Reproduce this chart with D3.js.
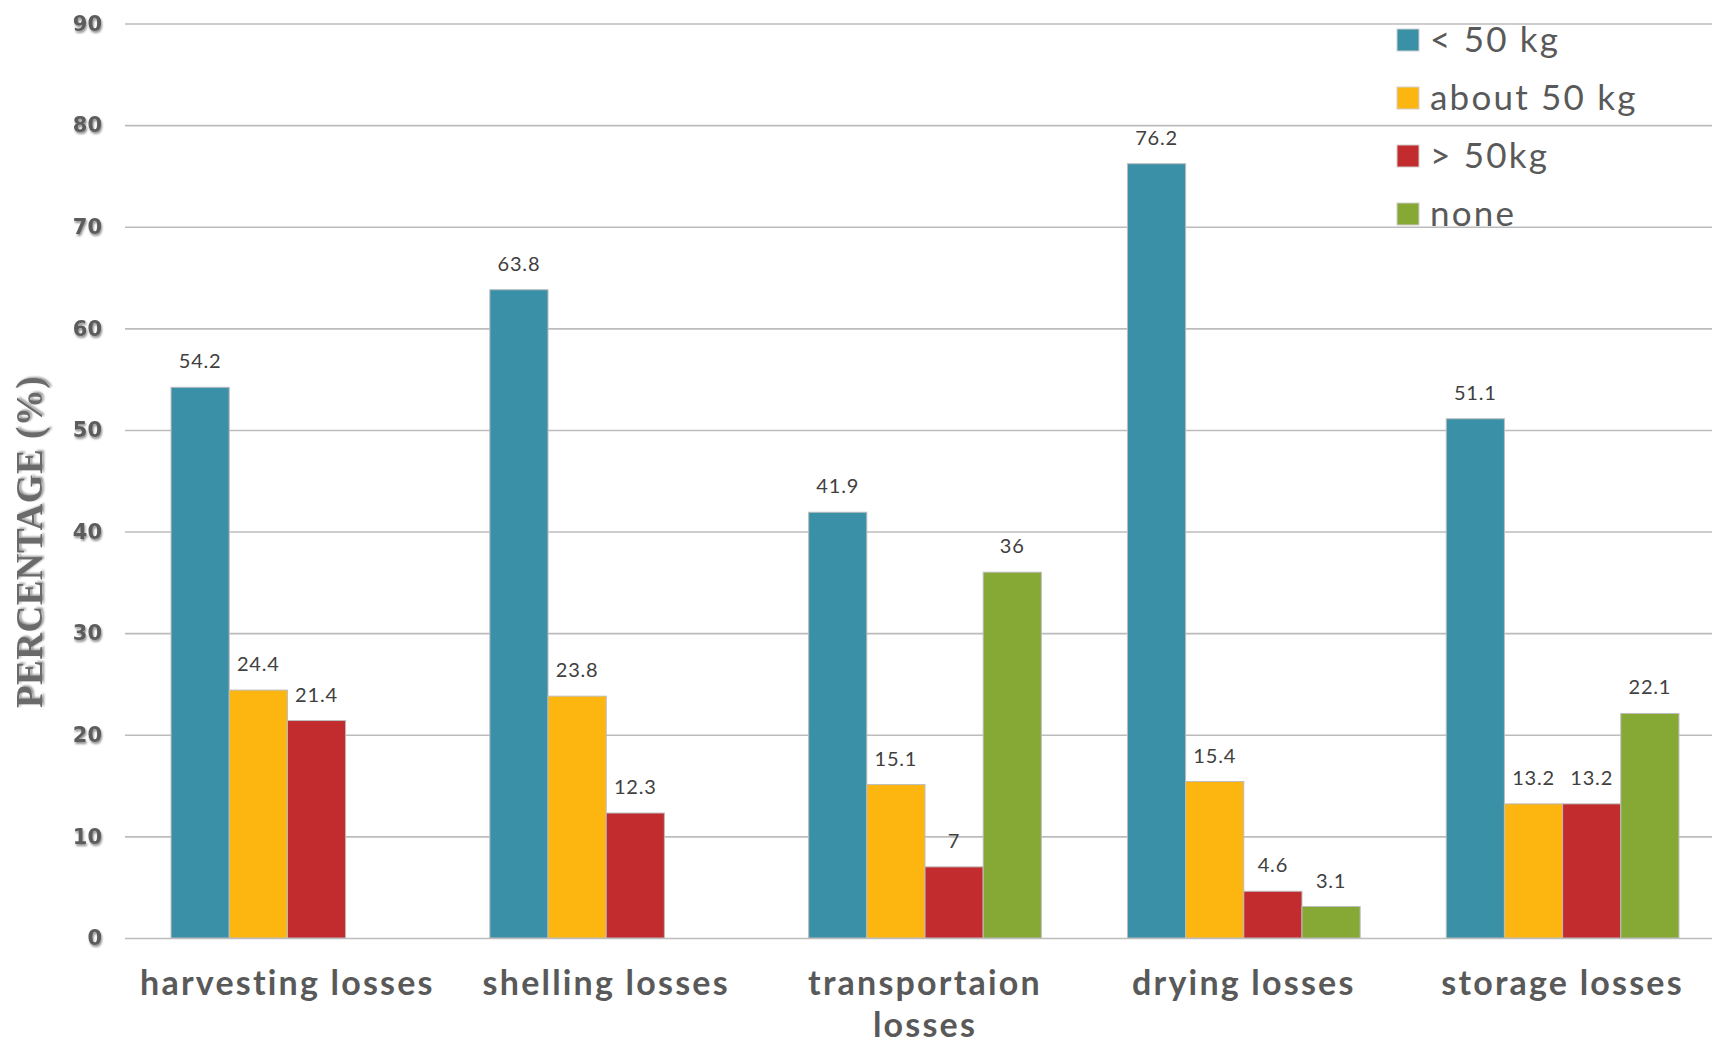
<!DOCTYPE html>
<html>
<head>
<meta charset="utf-8">
<script src="https://cdn.jsdelivr.net/npm/d3@7/dist/d3.min.js"></script>
<style>
  html, body { margin: 0; padding: 0; background: #fff; }
  svg { display: block; }
</style>
</head>
<body>
<svg id="chart" width="1712" height="1041"></svg>
<script>
// Post-harvest loss categories and the share of respondents per loss amount
const categories = ["harvesting losses", "shelling losses", "transportaion losses", "drying losses", "storage losses"];
const categoryLines = [["harvesting losses"], ["shelling losses"], ["transportaion", "losses"], ["drying losses"], ["storage losses"]];
const seriesNames = ["< 50 kg", "about 50 kg", "> 50kg", "none"];
const lessThan50 = [54.2, 63.8, 41.9, 76.2, 51.1];
const about50 = [24.4, 23.8, 15.1, 15.4, 13.2];
const moreThan50 = [21.4, 12.3, 7, 4.6, 13.2];
const noneLoss = [null, null, 36, 3.1, 22.1];
const yTicks = [0, 10, 20, 30, 40, 50, 60, 70, 80, 90];
const seriesColors = ["#3a90a7", "#fdb60f", "#c22c2f", "#86a935"];

const seriesValues = [lessThan50, about50, moreThan50, noneLoss];

const svg = d3.select("#chart");
const W = 1712, H = 1041;

const y = d3.scaleLinear().domain([0, 90]).range([938, 23.5]);
const x0 = d3.scaleBand().domain(categories).range([128, 1722]).paddingInner(0.27).paddingOuter(0.135);
const x1 = d3.scaleBand().domain(seriesNames).range([0, x0.bandwidth()]).padding(0);
const color = d3.scaleOrdinal().domain(seriesNames).range(seriesColors);

// Soft shadow used on the numeric axis labels
const defs = svg.append("defs");
const f = defs.append("filter").attr("id", "soft").attr("x", "-20%").attr("y", "-20%").attr("width", "150%").attr("height", "150%");
f.append("feGaussianBlur").attr("in", "SourceAlpha").attr("stdDeviation", 1.2).attr("result", "b");
f.append("feOffset").attr("in", "b").attr("dx", 1).attr("dy", 1.5).attr("result", "o");
f.append("feComponentTransfer").attr("in", "o").attr("result", "s")
  .append("feFuncA").attr("type", "linear").attr("slope", 0.45);
f.append("feGaussianBlur").attr("in", "SourceGraphic").attr("stdDeviation", 0.5).attr("result", "g");
const m = f.append("feMerge");
m.append("feMergeNode").attr("in", "s");
m.append("feMergeNode").attr("in", "g");

// Horizontal gridlines and y tick labels
const yAxis = d3.axisLeft(y).tickValues(yTicks).tickSize(-(W - 125)).tickPadding(23).tickFormat(d3.format("d"));
const gy = svg.append("g").attr("transform", "translate(125,0)").call(yAxis);
gy.select(".domain").remove();
gy.selectAll(".tick line").attr("stroke", "#bcbcbc").attr("stroke-width", 1.6);
gy.selectAll(".tick text")
  .attr("font-family", "'DejaVu Sans', Verdana, sans-serif")
  .attr("font-weight", "bold")
  .attr("font-size", 21)
  .attr("fill", "#5b5b5b")
  .attr("filter", "url(#soft)");

// Y axis title
svg.append("text")
  .attr("transform", "translate(42,542) rotate(-90)")
  .attr("text-anchor", "middle")
  .attr("font-family", "'Liberation Serif', 'Times New Roman', serif")
  .attr("font-weight", "bold")
  .attr("font-size", 37)
  .attr("letter-spacing", 0.5)
  .attr("fill", "#6a6a6a")
  .attr("filter", "url(#soft)")
  .text("PERCENTAGE (%)");

// Bars
const rows = categories.map((c, i) => ({
  category: c,
  values: seriesNames.map((s, j) => ({ series: s, value: seriesValues[j][i] }))
}));

const groups = svg.append("g").selectAll("g").data(rows).join("g")
  .attr("transform", d => `translate(${x0(d.category)},0)`);

groups.selectAll("rect").data(d => d.values.filter(v => v.value != null)).join("rect")
  .attr("x", d => x1(d.series))
  .attr("y", d => y(d.value))
  .attr("width", x1.bandwidth())
  .attr("height", d => y(0) - y(d.value))
  .attr("fill", d => color(d.series))
  .attr("stroke", "#bdbdbd")
  .attr("stroke-width", 1);

groups.selectAll("text").data(d => d.values.filter(v => v.value != null)).join("text")
  .attr("x", d => x1(d.series) + x1.bandwidth() / 2)
  .attr("y", d => y(d.value) - 19)
  .attr("text-anchor", "middle")
  .attr("font-family", "Lato, 'Open Sans', sans-serif")
  .attr("font-size", 20)
  .attr("letter-spacing", 0.8)
  .attr("fill", "#404040")
  .text(d => d.value);

// Category labels under the groups
const xl = svg.append("g");
categories.forEach((c, i) => {
  const cx = x0(c) + x0.bandwidth() / 2;
  const t = xl.append("text")
    .attr("x", cx)
    .attr("y", 995)
    .attr("text-anchor", "middle")
    .attr("font-family", "Lato, 'Open Sans', sans-serif")
    .attr("font-weight", "bold")
    .attr("font-size", 34)
    .attr("letter-spacing", 2.2)
    .attr("fill", "#595959");
  categoryLines[i].forEach((line, k) => {
    t.append("tspan").attr("x", cx).attr("dy", k === 0 ? 0 : 42).text(line);
  });
});

// Legend
const legend = svg.append("g").attr("transform", "translate(1397,0)");
const li = legend.selectAll("g").data(seriesNames).join("g")
  .attr("transform", (d, i) => `translate(0,${40 + i * 58})`);
li.append("rect")
  .attr("x", 0).attr("y", -11).attr("width", 22).attr("height", 22)
  .attr("fill", d => color(d))
  .attr("stroke", "#cfcfcf").attr("stroke-width", 1);
li.append("text")
  .attr("x", 33).attr("y", 12)
  .attr("font-family", "Lato, 'Open Sans', sans-serif")
  .attr("font-size", 35)
  .attr("letter-spacing", 2.2)
  .attr("fill", "#595959")
  .text(d => d);
</script>
</body>
</html>
